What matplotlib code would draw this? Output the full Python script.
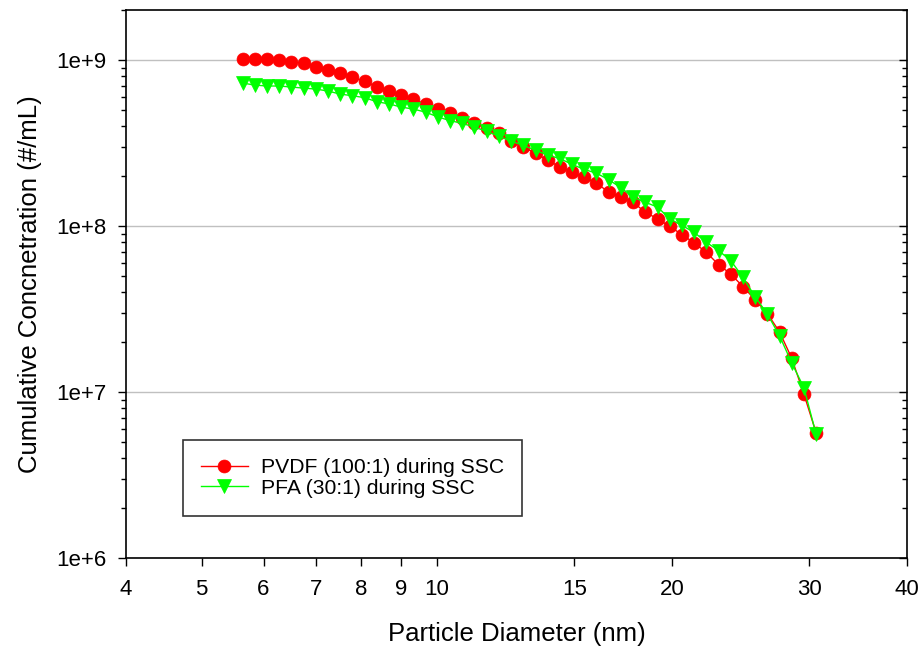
import matplotlib
matplotlib.use("Agg")
import matplotlib.pyplot as plt
from matplotlib.ticker import FixedLocator, FixedFormatter, LogLocator, NullFormatter, NullLocator

plt.rcParams['font.family'] = ['Liberation Sans', 'DejaVu Sans']

diameter_nm = [5.640, 5.847, 6.061, 6.283, 6.513, 6.752, 6.999, 7.256, 7.521, 7.797,
               8.083, 8.379, 8.686, 9.004, 9.334, 9.676, 10.03, 10.40, 10.78, 11.17,
               11.58, 12.01, 12.45, 12.90, 13.38, 13.87, 14.37, 14.90, 15.45, 16.01,
               16.60, 17.21, 17.84, 18.49, 19.17, 19.87, 20.60, 21.35, 22.13, 22.95,
               23.79, 24.66, 25.56, 26.50, 27.47, 28.47, 29.52, 30.60]

pvdf = [1.01e9, 1.01e9, 1.007e9, 1.0e9, 9.79e8, 9.53e8, 9.13e8, 8.70e8, 8.29e8, 7.89e8,
        7.42e8, 6.92e8, 6.50e8, 6.14e8, 5.81e8, 5.42e8, 5.09e8, 4.78e8, 4.46e8, 4.16e8,
        3.88e8, 3.62e8, 3.24e8, 3.00e8, 2.74e8, 2.49e8, 2.27e8, 2.12e8, 1.96e8, 1.81e8,
        1.60e8, 1.49e8, 1.39e8, 1.21e8, 1.105e8, 9.93e7, 8.88e7, 7.91e7, 6.95e7, 5.85e7,
        5.14e7, 4.31e7, 3.60e7, 2.97e7, 2.30e7, 1.60e7, 9.69e6, 5.68e6]

pfa = [7.26e8, 7.06e8, 6.97e8, 6.97e8, 6.87e8, 6.77e8, 6.68e8, 6.50e8, 6.23e8, 6.09e8,
       5.93e8, 5.60e8, 5.44e8, 5.20e8, 5.06e8, 4.85e8, 4.54e8, 4.31e8, 4.15e8, 3.94e8,
       3.72e8, 3.47e8, 3.24e8, 3.06e8, 2.86e8, 2.67e8, 2.55e8, 2.35e8, 2.19e8, 2.08e8,
       1.90e8, 1.70e8, 1.49e8, 1.39e8, 1.30e8, 1.105e8, 1.007e8, 9.17e7, 7.98e7, 7.11e7,
       6.19e7, 4.91e7, 3.75e7, 2.95e7, 2.18e7, 1.50e7, 1.06e7, 5.55e6]

x_ticks = [4, 5, 6, 7, 8, 9, 10, 15, 20, 30, 40]
x_ticklabels = ['4', '5', '6', '7', '8', '9', '10', '15', '20', '30', '40']
y_ticks = [1e6, 1e7, 1e8, 1e9]
y_ticklabels = ['1e+6', '1e+7', '1e+8', '1e+9']

labels = ['PVDF (100:1) during SSC', 'PFA (30:1) during SSC']

fig = plt.figure(figsize=(9.22, 6.49), dpi=100)
ax = fig.add_axes([126/922, 1 - 558/649, (907-126)/922, (558-10)/649])

ax.set_xscale('log')
ax.set_yscale('log')
ax.set_xlim(4, 40)
ax.set_ylim(1e6, 2e9)

ax.plot(diameter_nm, pvdf, color='#ff0000', lw=1.0, marker='o', markersize=9.3,
        markeredgewidth=0.5, markeredgecolor='#ff0000', markerfacecolor='#ff0000',
        label=labels[0], zorder=3)
ax.plot(diameter_nm, pfa, color='#00ff00', lw=1.0, marker='v', markersize=9.5,
        markeredgewidth=0.5, markeredgecolor='#00ff00', markerfacecolor='#00ff00',
        label=labels[1], zorder=4)

ax.xaxis.set_major_locator(FixedLocator(x_ticks))
ax.xaxis.set_major_formatter(FixedFormatter(x_ticklabels))
ax.xaxis.set_minor_locator(NullLocator())
ax.yaxis.set_major_locator(FixedLocator(y_ticks))
ax.yaxis.set_major_formatter(FixedFormatter(y_ticklabels))
ax.yaxis.set_minor_locator(LogLocator(base=10, subs=[2, 3, 4, 5, 6, 7, 8, 9]))
ax.yaxis.set_minor_formatter(NullFormatter())

ax.grid(True, which='major', axis='y', color='#c0c0c0', lw=1.0, zorder=0)
ax.set_axisbelow(True)

for s in ax.spines.values():
    s.set_linewidth(1.2)
    s.set_color('black')

ax.tick_params(axis='x', which='major', direction='out', length=6, width=1, labelsize=16, pad=9)
ax.tick_params(axis='y', which='major', direction='out', length=6, width=1, labelsize=16, pad=8,
               right=True)
ax.tick_params(axis='y', which='minor', direction='out', length=3.5, width=1, right=True)
# right side ticks drawn inward
for t in ax.yaxis.get_major_ticks() + ax.yaxis.get_minor_ticks():
    t.tick2line.set_marker(matplotlib.lines.TICKLEFT)

ax.set_xlabel('Particle Diameter (nm)', fontsize=18.5, labelpad=16)
ax.set_ylabel('Cumulative Concnetration (#/mL)', fontsize=18.5, labelpad=10)

leg = ax.legend(loc='upper left', bbox_to_anchor=(0.073, 0.215), borderaxespad=0,
                fontsize=15.2, frameon=True, fancybox=False, edgecolor='black',
                handlelength=2.25, labelspacing=0.09, borderpad=0.84, handletextpad=0.6)
leg.get_frame().set_linewidth(1.2)
leg.set_zorder(5)

fig.savefig('out.png', dpi=100)
